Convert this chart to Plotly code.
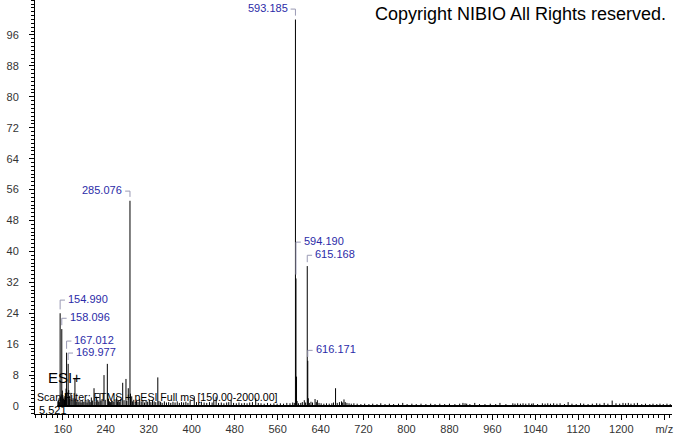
import plotly.graph_objects as go

# ---------------- data ----------------
scan_range = [150.0, 2000.0]

# labelled peaks (m/z, relative abundance)
label_mz = [154.990, 158.096, 167.012, 169.977, 285.076, 593.185, 594.190, 615.168, 616.171]
label_int = [24.0, 19.9, 13.8, 10.9, 53.1, 100.0, 33.0, 36.2, 11.7]
label_text = ["154.990", "158.096", "167.012", "169.977", "285.076",
              "593.185", "594.190", "615.168", "616.171"]

# unlabelled peaks
minor_mz = [150.9, 151.7, 152.9, 153.6, 156.1, 157.0, 159.1, 160.1, 161.0, 162.1, 163.1, 164.0,
            165.1, 166.0, 168.0, 171.0, 172.1, 173.0, 175.1, 177.0, 179.1, 181.0, 182.6, 184.1,
            186.0, 188.1, 190.0, 192.1, 194.0, 196.1, 198.0, 201.1, 203.0, 205.1, 207.0, 209.1,
            211.0, 213.1, 215.0, 218.1, 220.0, 223.0, 225.1, 227.0, 229.2, 231.0, 233.1, 236.7,
            239.0, 242.9, 245.0, 247.1, 249.0, 251.0, 253.1, 255.0, 257.1, 260.3, 262.0, 264.1,
            266.0, 268.1, 271.5, 274.0, 277.6, 279.1, 281.9, 286.1, 288.3, 290.0, 292.1, 295.0,
            297.1, 300.0, 303.1, 306.0, 309.1, 312.0, 315.1, 318.0, 321.1, 324.0, 327.1, 330.0,
            333.1, 336.9, 339.0, 342.1, 345.0, 349.1, 353.0, 357.1, 361.0, 365.1, 369.0, 373.1,
            377.0, 381.1, 385.0, 389.1, 393.0, 397.1, 404.8, 409.0, 413.1, 418.0, 423.1, 428.0,
            433.1, 438.0, 441.2, 445.5, 450.0, 455.1, 460.0, 465.1, 469.0, 473.4, 478.0, 483.1,
            488.0, 493.1, 498.0, 503.1, 508.0, 513.1, 519.2, 524.0, 529.1, 535.0, 541.1, 547.0,
            553.1, 559.0, 565.1, 571.0, 577.1, 583.0, 588.1, 591.0, 595.19, 596.2, 599.0, 603.1,
            606.0, 609.7, 612.1, 617.17, 619.0, 622.1, 625.0, 629.7, 632.1, 634.0, 637.1, 641.0,
            646.1, 651.0, 656.1, 661.0, 664.0, 667.9, 671.0, 675.1, 679.0, 681.1, 683.6, 686.0,
            689.1, 693.0, 697.1, 702.0, 708.1, 715.0, 722.1, 730.0, 737.1, 745.0, 752.1, 760.0,
            768.1, 776.0, 785.1, 793.0, 801.1, 810.0, 818.1, 827.0, 836.1, 845.0, 853.1, 862.0,
            871.1, 880.0, 890.1, 899.0, 905.1, 909.0, 912.1, 918.0, 927.1, 936.0, 946.1, 956.0,
            966.1, 974.0, 985.1, 998.0, 1002.1, 1007.0, 1012.1, 1017.0, 1022.1, 1028.0, 1033.1, 1036.0,
            1044.1, 1053.0, 1058.1, 1063.0, 1068.1, 1074.0, 1080.1, 1086.0, 1094.1, 1101.0, 1108.1, 1116.0,
            1124.1, 1130.0, 1138.1, 1146.0, 1154.1, 1160.0, 1168.1, 1175.0, 1183.0, 1190.1, 1197.0, 1203.1,
            1208.0, 1213.1, 1218.0, 1224.1, 1230.0, 1238.1, 1245.0, 1253.1, 1259.0, 1266.1, 1272.0, 1278.1,
            1285.0, 1291.1]
minor_int = [1.2, 1.5, 2.0, 1.0, 2.4, 3.0, 4.0, 2.8, 1.8, 2.2, 1.6, 2.6,
             3.2, 4.5, 3.5, 4.1, 2.6, 1.8, 3.4, 1.5, 2.0, 1.4, 7.2, 1.9,
             1.2, 1.6, 1.0, 1.3, 0.9, 1.5, 1.1, 1.2, 1.6, 0.9, 1.8, 1.3,
             1.0, 2.2, 1.4, 4.6, 1.2, 2.4, 1.5, 1.1, 3.3, 1.4, 1.8, 8.0,
             1.6, 10.9, 1.9, 1.2, 1.0, 1.5, 1.3, 1.1, 1.7, 2.3, 1.2, 1.4,
             1.1, 1.8, 6.0, 1.5, 7.0, 1.3, 4.6, 3.2, 2.5, 1.2, 1.6, 1.0,
             1.4, 1.1, 1.8, 1.2, 1.5, 0.9, 1.3, 1.1, 1.6, 1.0, 1.4, 1.2,
             1.0, 7.4, 1.3, 1.1, 0.8, 1.2, 0.9, 1.0, 0.8, 1.1, 0.9, 1.2,
             0.8, 1.0, 0.9, 1.1, 0.8, 1.3, 2.5, 1.0, 0.8, 1.1, 0.9, 0.8,
             1.0, 0.9, 1.5, 2.4, 0.8, 0.9, 0.7, 0.9, 1.0, 1.6, 0.8, 0.7,
             0.9, 0.7, 0.8, 0.7, 0.9, 1.0, 2.0, 0.8, 0.7, 0.6, 0.8, 0.6,
             0.7, 0.6, 0.7, 0.6, 0.8, 0.7, 0.9, 0.8, 7.6, 1.3, 0.7, 0.8,
             1.0, 1.5, 0.9, 2.0, 0.8, 1.1, 0.9, 1.8, 1.0, 1.5, 0.8, 0.7,
             0.6, 0.7, 0.6, 0.7, 0.9, 4.6, 0.8, 1.0, 1.2, 0.9, 1.7, 1.0,
             0.8, 0.7, 0.6, 0.7, 0.6, 0.5, 0.6, 0.5, 0.6, 0.5, 0.7, 0.5,
             0.6, 0.5, 0.6, 0.8, 0.5, 0.6, 0.5, 0.6, 0.5, 0.6, 0.5, 0.6,
             0.5, 0.6, 0.5, 0.6, 0.8, 0.7, 0.6, 0.5, 0.8, 0.5, 0.5, 0.6,
             0.5, 0.8, 0.5, 0.7, 0.6, 0.7, 0.6, 0.7, 0.6, 0.7, 0.6, 0.7,
             0.5, 0.7, 0.6, 0.7, 0.6, 0.7, 0.6, 0.7, 0.5, 1.0, 0.6, 0.5,
             0.7, 0.6, 0.5, 0.6, 0.7, 0.6, 0.8, 0.6, 1.4, 0.7, 0.6, 0.8,
             0.7, 0.8, 0.6, 0.7, 0.8, 0.5, 0.6, 0.5, 0.6, 0.5, 0.6, 0.5,
             0.6, 0.5]

y_ticks = [0, 8, 16, 24, 32, 40, 48, 56, 64, 72, 80, 88, 96]
x_ticks = [160, 240, 320, 400, 480, 560, 640, 720, 800, 880, 960, 1040, 1120, 1200, 1280]
x_ticktext = ["160", "240", "320", "400", "480", "560", "640", "720", "800", "880",
              "960", "1040", "1120", "1200", "m/z"]

# label placement (intensity level of each label) and side of the peak
label_level = [27.7, 23.0, 17.1, 14.0, 55.9, 103.0, 42.7, 39.3, 14.7]
label_side = ["right", "right", "right", "right", "left", "left", "right", "right", "right"]

header_lines = ["ESI+", "Scan Filter: FTMS + pESI Full ms [150.00-2000.00]", "5.521"]
copyright_text = "Copyright NIBIO All Rights reserved."

# ---------------- build ----------------
FONT = "Liberation Sans, Arial, sans-serif"
LABEL_BLUE = "#2b2ba8"
BRACKET = "#9a9ab4"

all_mz = minor_mz + label_mz
all_int = minor_int + label_int
xs, ys = [], []
for m, h in zip(all_mz, all_int):
    xs += [m, m, None]
    ys += [0, h, None]

fig = go.Figure()
fig.add_trace(go.Scatter(x=[scan_range[0], scan_range[1]], y=[0, 0], mode="lines",
                         line=dict(color="black", width=2), hoverinfo="skip", showlegend=False))
fig.add_trace(go.Scatter(x=xs, y=ys, mode="lines", line=dict(color="black", width=1),
                         hoverinfo="skip", showlegend=False))

BW = 9.0  # bracket horizontal width in m/z units
shapes = []
annotations = []
for m, h, t, lv, side in zip(label_mz, label_int, label_text, label_level, label_side):
    sgn = 1 if side == "right" else -1
    corner = lv - 0.3
    shapes.append(dict(type="line", xref="x", yref="y", x0=m, x1=m, y0=corner, y1=h + 1.0,
                       line=dict(color=BRACKET, width=1)))
    shapes.append(dict(type="line", xref="x", yref="y", x0=m, x1=m + sgn * BW, y0=corner, y1=corner,
                       line=dict(color=BRACKET, width=1)))
    annotations.append(dict(x=m + sgn * BW, y=lv, xref="x", yref="y", text=t, showarrow=False,
                            xanchor="left" if side == "right" else "right", yanchor="middle",
                            xshift=sgn * 1, font=dict(family=FONT, size=11, color=LABEL_BLUE)))

annotations.append(dict(x=1, y=1, xref="paper", yref="paper", text=copyright_text, showarrow=False,
                        xanchor="right", yanchor="middle", xshift=-4, yshift=-14,
                        font=dict(family=FONT, size=18, color="black")))
annotations.append(dict(x=0, y=0, xref="paper", yref="paper", text=header_lines[0], showarrow=False,
                        xanchor="left", yanchor="middle", xshift=11, yshift=37,
                        font=dict(family=FONT, size=15, color="black")))
annotations.append(dict(x=0, y=0, xref="paper", yref="paper", text=header_lines[1], showarrow=False,
                        xanchor="left", yanchor="middle", xshift=0, yshift=17,
                        font=dict(family=FONT, size=10.6, color="black")))
annotations.append(dict(x=0, y=0, xref="paper", yref="paper", text=header_lines[2], showarrow=False,
                        xanchor="left", yanchor="middle", xshift=2, yshift=4,
                        font=dict(family=FONT, size=11, color="black")))

fig.update_layout(
    width=674, height=434, autosize=False,
    margin=dict(l=35, r=2, t=0, b=20, pad=0),
    paper_bgcolor="white", plot_bgcolor="white",
    showlegend=False,
    shapes=shapes, annotations=annotations,
    font=dict(family=FONT, size=11, color="#333333"),
)
fig.update_xaxes(
    range=[108.2, 1294.4], showgrid=False, zeroline=False,
    showline=True, linecolor="black", linewidth=1,
    tickmode="array", tickvals=x_ticks, ticktext=x_ticktext,
    ticks="outside", ticklen=5, tickcolor="black", tickwidth=1,
    minor=dict(tickmode="linear", tick0=0, dtick=10, ticks="outside", ticklen=3,
               tickcolor="black", showgrid=False),
    tickfont=dict(family=FONT, size=11, color="#333333"),
)
fig.update_yaxes(
    range=[-2.07, 105.05], showgrid=False, zeroline=False,
    showline=True, linecolor="black", linewidth=1,
    tickmode="array", tickvals=y_ticks,
    ticks="outside", ticklen=5, tickcolor="black", tickwidth=1,
    minor=dict(tickmode="linear", tick0=0, dtick=1, ticks="outside", ticklen=3,
               tickcolor="black", showgrid=False),
    tickfont=dict(family=FONT, size=11, color="#333333"),
    ticklabelstandoff=8,
)

fig.write_html("out.html", config={"displayModeBar": False},
               post_script="document.body.style.margin='0';document.body.style.overflow='hidden';")
